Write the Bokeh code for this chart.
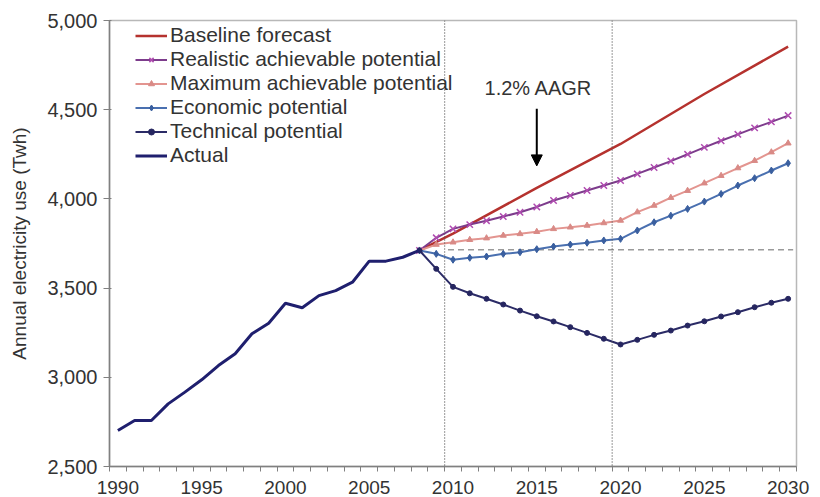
from bokeh.plotting import figure
from bokeh.models import (FixedTicker, NumeralTickFormatter, Span, Legend, LegendItem,
                          Arrow, NormalHead, Label, Range1d)
from bokeh.embed import file_html
from bokeh.resources import INLINE

# ---------------- data ----------------
actual_years = list(range(1990, 2009))
actual = [2702, 2758, 2758, 2851, 2917, 2986, 3066, 3132, 3244, 3303,
          3415, 3390, 3458, 3486, 3533, 3651, 3651, 3673, 3711]

proj_years = list(range(2008, 2031))
realistic = [3711, 3782, 3832, 3856, 3878, 3901, 3925, 3955, 3991, 4019, 4047, 4075,
             4103, 4140, 4176, 4212, 4250, 4289, 4326, 4362, 4398, 4432, 4467]
maximum = [3711, 3744, 3757, 3771, 3780, 3795, 3804, 3816, 3832, 3841, 3851, 3865,
           3879, 3926, 3963, 4007, 4046, 4088, 4130, 4173, 4214, 4262, 4312]
economic = [3711, 3692, 3659, 3670, 3677, 3692, 3701, 3718, 3733, 3744, 3754, 3767,
            3776, 3823, 3869, 3906, 3944, 3985, 4028, 4075, 4116, 4159, 4200]
technical = [3711, 3608, 3507, 3471, 3440, 3408, 3374, 3342, 3313, 3281, 3249, 3216,
             3184, 3210, 3238, 3262, 3290, 3314, 3341, 3365, 3393, 3418, 3440]

baseline_years = [2008, 2010, 2015, 2020, 2025, 2030]
baseline = [3711, 3805, 4062, 4308, 4588, 4854]

flat_level = 3715
period_breaks = [2009.5, 2019.5]

x_ticks = [1990, 1995, 2000, 2005, 2010, 2015, 2020, 2025, 2030]
y_ticks = [2500, 3000, 3500, 4000, 4500, 5000]

annotation_text = "1.2% AAGR"
annotation_year = 2015
annotation_top = 4505
annotation_tip = 4185
annotation_label_y = 4620

series_labels = ["Baseline forecast", "Realistic achievable potential",
                 "Maximum achievable potential", "Economic potential",
                 "Technical potential", "Actual"]
y_title = "Annual electricity use (Twh)"

FONT = "Liberation Sans"
TXT = "#333333"

# ---------------- figure ----------------
p = figure(width=818, height=497,
           x_range=Range1d(1989.5, 2030.5), y_range=Range1d(2500, 5000),
           output_backend="svg", toolbar_location=None,
           min_border_left=109, min_border_right=22, min_border_top=20, min_border_bottom=31)
p.xgrid.visible = False
p.ygrid.visible = False
p.outline_line_color = "#b8b8b8"
p.outline_line_width = 1.5
p.background_fill_color = "white"

# x axis
xa = p.xaxis[0]
xa.ticker = FixedTicker(ticks=x_ticks, minor_ticks=[y + 0.5 for y in range(1989, 2031)])
xa.major_tick_out = 0
xa.major_tick_in = 0
xa.minor_tick_out = 5
xa.minor_tick_in = 0
xa.minor_tick_line_color = "#808080"
xa.axis_line_color = "#808080"
xa.axis_line_width = 1.5
xa.major_label_standoff = 9
xa.major_label_text_font = FONT
xa.major_label_text_font_size = "19px"
xa.major_label_text_color = TXT

# y axis
ya = p.yaxis[0]
ya.ticker = FixedTicker(ticks=y_ticks)
ya.formatter = NumeralTickFormatter(format="0,0")
ya.major_tick_out = 6
ya.major_tick_in = 2
ya.major_tick_line_color = "#808080"
ya.minor_tick_out = 0
ya.minor_tick_in = 0
ya.axis_line_color = "#808080"
ya.axis_line_width = 1.5
ya.major_label_standoff = 6
ya.major_label_text_font = FONT
ya.major_label_text_font_size = "20px"
ya.major_label_text_color = TXT
ya.axis_label = y_title
ya.axis_label_text_font = FONT
ya.axis_label_text_font_style = "normal"
ya.axis_label_text_font_size = "19px"
ya.axis_label_text_color = TXT
ya.axis_label_standoff = 14

# reference lines
for b in period_breaks:
    p.add_layout(Span(location=b, dimension="height", line_color="#555555",
                      line_dash="1 2", line_width=1.2))
p.segment(x0=proj_years[2] - 0.3, x1=proj_years[-1] + 0.3, y0=flat_level, y1=flat_level,
          line_color="#9a9a9a", line_dash="6 4", line_width=1.5)

# series
r_base = p.line(baseline_years, baseline, line_color="#b5322e", line_width=2.5)

r_real_l = p.line(proj_years, realistic, line_color="#7d3c8c", line_width=2)
r_real_m = p.scatter(proj_years, realistic, marker="x", size=9, line_color="#b04cb0", line_width=1.5)

r_max_l = p.line(proj_years, maximum, line_color="#e39590", line_width=2)
r_max_m = p.scatter(proj_years, maximum, marker="triangle", size=6,
                    fill_color="#d98a86", line_color="#d98a86")

r_eco_l = p.line(proj_years, economic, line_color="#4a70b0", line_width=2)
r_eco_m = p.scatter(proj_years, economic, marker="diamond", size=7,
                    fill_color="#3a5f9f", line_color="#3a5f9f")

r_tec_l = p.line(proj_years, technical, line_color="#2b2b66", line_width=2)
r_tec_m = p.scatter(proj_years, technical, marker="circle", size=5,
                    fill_color="#262660", line_color="#262660")

r_act = p.line(actual_years, actual, line_color="#1f1f6e", line_width=3)

# annotation
p.add_layout(Arrow(end=NormalHead(size=11, fill_color="black", line_color="black"),
                   x_start=annotation_year, y_start=annotation_top,
                   x_end=annotation_year, y_end=annotation_tip,
                   line_color="black", line_width=2))
p.add_layout(Label(x=annotation_year + 0.1, y=annotation_label_y, text=annotation_text,
                   text_align="center", text_baseline="middle",
                   text_font=FONT, text_font_size="20px", text_color=TXT))

# legend
items = [
    LegendItem(label=series_labels[0], renderers=[r_base]),
    LegendItem(label=series_labels[1], renderers=[r_real_l, r_real_m]),
    LegendItem(label=series_labels[2], renderers=[r_max_l, r_max_m]),
    LegendItem(label=series_labels[3], renderers=[r_eco_l, r_eco_m]),
    LegendItem(label=series_labels[4], renderers=[r_tec_l, r_tec_m]),
    LegendItem(label=series_labels[5], renderers=[r_act]),
]
legend = Legend(items=items, location=(26, 299), glyph_width=32, glyph_height=15,
                label_height=24, spacing=0, padding=0, margin=0, label_standoff=3,
                label_text_font=FONT, label_text_font_size="21px", label_text_color=TXT,
                background_fill_alpha=0, border_line_alpha=0)
p.add_layout(legend)

open("out.html", "w").write(file_html(p, INLINE))
